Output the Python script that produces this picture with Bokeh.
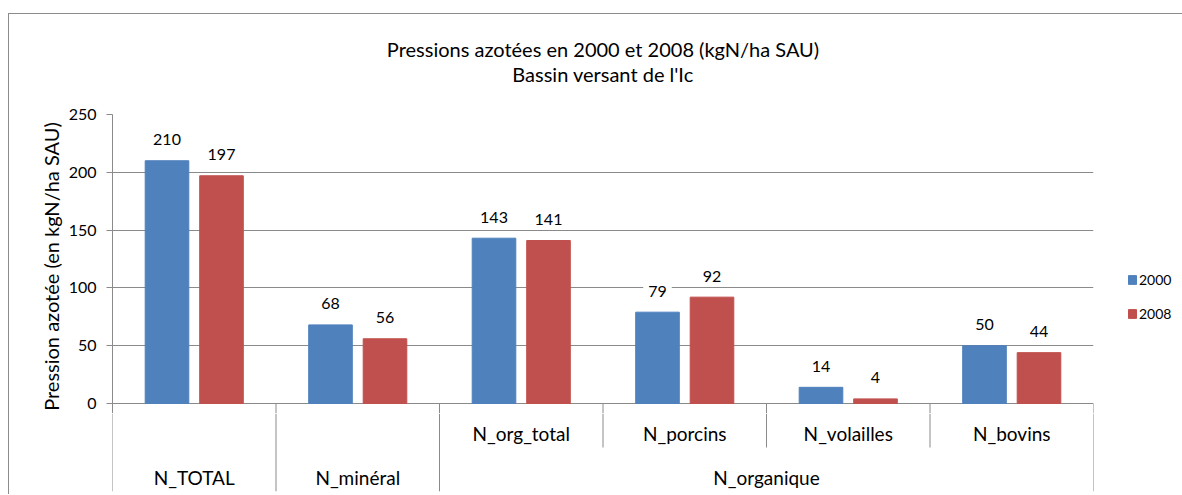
import numpy as np
from bokeh.plotting import figure
from bokeh.layouts import column
from bokeh.models import (Range1d, FixedTicker, ColumnDataSource,
                          Legend, LegendItem)
from bokeh.embed import file_html
from bokeh.resources import INLINE
from bokeh.core.properties import value

# ---------------- data ----------------
categories = ["N_TOTAL", "N_minéral", "N_org_total", "N_porcins", "N_volailles", "N_bovins"]
sub_labels = ["", "", "N_org_total", "N_porcins", "N_volailles", "N_bovins"]
groups = ["N_TOTAL", "N_minéral", "N_organique", "N_organique", "N_organique", "N_organique"]
series_names = ["2000", "2008"]
values_2000 = [210, 68, 143, 79, 14, 50]
values_2008 = [197, 56, 141, 92, 4, 44]
y_ticks = [0, 50, 100, 150, 200, 250]

title_lines = ["Pressions azotées en 2000 et 2008 (kgN/ha SAU)",
               "Bassin versant de l'Ic"]
y_label = "Pression azotée (en kgN/ha  SAU)"

# ---------------- style ----------------
FONT = "Lato"
BLUE = "#4F81BD"
RED = "#C0504D"
GREY = "#8A8A8A"

FRAME_W = 981
LEFT, RIGHT = 103, 85
AXIS_PX = 289                      # pixels between 0 and 250
PX = y_ticks[-1] / AXIS_PX         # data units per pixel
LABEL_GAP = 21 * PX
EXTRA = 10                         # px of the category band inside main plot
TOP_PAD = 20                       # room above the main frame for tick / axis labels
HEADER_H = 100 - TOP_PAD
CAT_H = 88                         # category band height (px, below 0)

BAR_W = 1 / 3.75                   # gap width 150 %, overlap -25 %
OFFSET = 0.625 * BAR_W

n = len(categories)
idx = np.arange(n)
x_range = Range1d(0, n)


def blank(fig):
    fig.outline_line_color = None
    fig.grid.visible = False
    fig.background_fill_color = "white"
    fig.border_fill_color = "white"


# ---------------- header (title) ----------------
h = figure(frame_width=FRAME_W, frame_height=HEADER_H,
           x_range=x_range, y_range=Range1d(-HEADER_H, 0),
           x_axis_location=None, y_axis_location=None,
           output_backend="svg", toolbar_location=None,
           min_border_left=LEFT, min_border_right=RIGHT,
           min_border_top=0, min_border_bottom=0)
blank(h)
h.text(x=[n / 2] * 2, y=[-34, -59], text=title_lines,
       text_align="center", text_baseline="middle",
       text_font=value(FONT), text_font_size="20px", text_color="black")

# ---------------- main plot ----------------
p = figure(frame_width=FRAME_W, frame_height=AXIS_PX + EXTRA,
           x_range=x_range, y_range=Range1d(-EXTRA * PX, y_ticks[-1]),
           x_axis_location=None,
           output_backend="svg", toolbar_location=None,
           min_border_left=LEFT, min_border_right=RIGHT,
           min_border_top=TOP_PAD, min_border_bottom=0)
p.outline_line_color = None
p.background_fill_color = "white"
p.border_fill_color = "white"
p.xgrid.visible = False

p.yaxis.ticker = FixedTicker(ticks=y_ticks)
p.yaxis.minor_tick_line_color = None
p.yaxis.major_tick_in = 0
p.yaxis.major_tick_out = 6
p.yaxis.major_tick_line_color = GREY
p.yaxis.axis_line_color = GREY
p.yaxis.major_label_text_font = FONT
p.yaxis.major_label_text_font_size = "16px"
p.yaxis.major_label_text_color = "black"
p.yaxis.major_label_standoff = 10
p.yaxis.axis_label = y_label
p.yaxis.axis_label_text_font = FONT
p.yaxis.axis_label_text_font_size = "20px"
p.yaxis.axis_label_text_font_style = "normal"
p.yaxis.axis_label_text_color = "black"
p.yaxis.axis_label_standoff = 3

p.ygrid.ticker = FixedTicker(ticks=y_ticks)
p.ygrid.grid_line_color = GREY
p.ygrid.grid_line_width = 1

src = ColumnDataSource(dict(
    x1=idx + 0.5 - OFFSET, x2=idx + 0.5 + OFFSET,
    v1=values_2000, v2=values_2008,
    ly1=[v + LABEL_GAP for v in values_2000],
    ly2=[v + LABEL_GAP for v in values_2008],
    t1=[str(v) for v in values_2000], t2=[str(v) for v in values_2008]))
r1 = p.vbar(x="x1", top="v1", width=BAR_W, source=src,
            fill_color=BLUE, line_color=BLUE)
r2 = p.vbar(x="x2", top="v2", width=BAR_W, source=src,
            fill_color=RED, line_color=RED)

for xcol, ycol, tcol in (("x1", "ly1", "t1"), ("x2", "ly2", "t2")):
    p.text(x=xcol, y=ycol, text=tcol, source=src,
           text_align="center", text_baseline="middle",
           text_font=value(FONT), text_font_size="16px", text_color="black",
           background_fill_color="white", padding=5)

# top part of the category separators (inside the main plot)
bx = list(range(n + 1))
p.segment(x0=bx, y0=[0] * (n + 1), x1=bx, y1=[-EXTRA * PX] * (n + 1),
          line_color=GREY, line_width=1)

legend = Legend(items=[LegendItem(label=series_names[0], renderers=[r1]),
                       LegendItem(label=series_names[1], renderers=[r2])],
                location=(34, 90), glyph_width=10, glyph_height=11,
                label_height=20, spacing=14, label_standoff=2,
                padding=0, margin=0, border_line_color=None,
                background_fill_alpha=0,
                label_text_font=FONT, label_text_font_size="14px",
                label_text_color="black")
p.add_layout(legend, "right")

# ---------------- category band (two-level axis) ----------------
q = figure(frame_width=FRAME_W, frame_height=CAT_H - EXTRA,
           x_range=x_range, y_range=Range1d(-CAT_H, -EXTRA),
           x_axis_location=None, y_axis_location=None,
           output_backend="svg", toolbar_location=None,
           min_border_left=LEFT, min_border_right=RIGHT,
           min_border_top=0, min_border_bottom=3)
blank(q)

UPPER_LABEL_Y = -30
UPPER_SEP_Y = -44
LOWER_LABEL_Y = -74

sx, sy0, sy1 = [], [], []
for i in range(n + 1):
    full = i == 0 or i == n or groups[i - 1] != groups[i]
    sx.append(i)
    sy0.append(-EXTRA)
    sy1.append(-CAT_H if full else UPPER_SEP_Y)
q.segment(x0=sx, y0=sy0, x1=sx, y1=sy1, line_color=GREY, line_width=1)

q.text(x=idx + 0.5, y=[UPPER_LABEL_Y] * n, text=sub_labels,
       text_align="center", text_baseline="middle",
       text_font=value(FONT), text_font_size="19px", text_color="black")

uniq = []
for g in groups:
    if g not in uniq:
        uniq.append(g)
gx = []
for g in uniq:
    ids = [i for i, gg in enumerate(groups) if gg == g]
    gx.append((ids[0] + ids[-1] + 1) / 2)
q.text(x=gx, y=[LOWER_LABEL_Y] * len(uniq), text=uniq,
       text_align="center", text_baseline="middle",
       text_font=value(FONT), text_font_size="19px", text_color="black")

layout = column(h, p, q, spacing=0)
layout.margin = (13, 0, 0, 8)
layout.styles = {"border-top": "1px solid #8C8C8C", "border-left": "1px solid #8C8C8C"}

open("out.html", "w").write(file_html(layout, INLINE))
